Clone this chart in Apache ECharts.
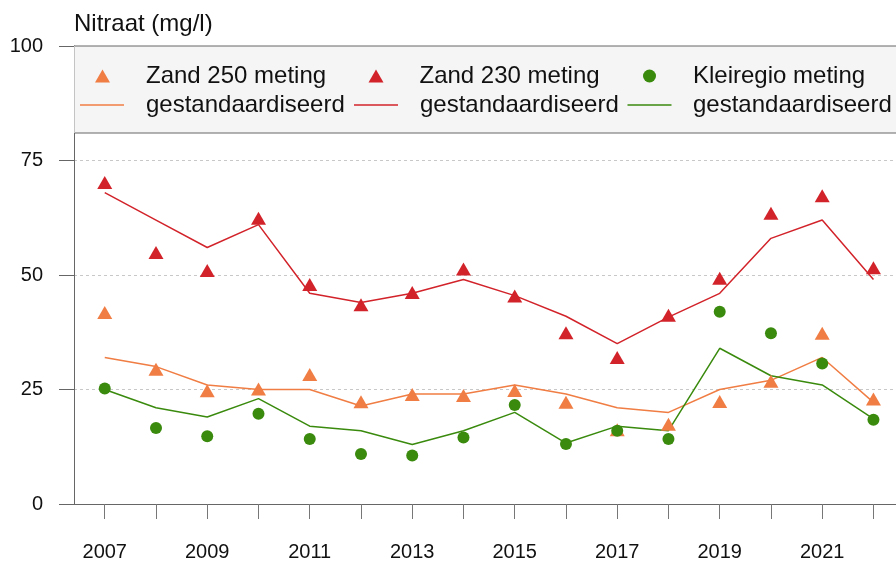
<!DOCTYPE html>
<html>
<head>
<meta charset="utf-8">
<style>
  html, body { margin: 0; padding: 0; background: #fff; }
  #main { width: 896px; height: 562px; }
</style>
<script src="https://cdn.jsdelivr.net/npm/echarts@6/dist/echarts.min.js"></script>
</head>
<body>
<div id="main"></div>
<script>
// jaren en waarden
const years = [2007, 2008, 2009, 2010, 2011, 2012, 2013, 2014, 2015, 2016, 2017, 2018, 2019, 2020, 2021, 2022]
const yearLabels = [2007, 2009, 2011, 2013, 2015, 2017, 2019, 2021]
const yTicks = [0, 25, 50, 75, 100]

const zand250Meting = [41.8, 29.4, 24.7, 25.1, 28.3, 22.3, 23.9, 23.7, 24.8, 22.2, 16.2, 17.4, 22.4, 26.8, 37.3, 22.9]
const zand250Std = [32, 30, 26, 25, 25, 21.4, 24, 24, 26, 24, 21, 20, 25, 27, 32, 22.2]
const zand230Meting = [70.2, 54.9, 51.0, 62.4, 47.9, 43.5, 46.2, 51.3, 45.4, 37.4, 32.0, 41.2, 49.3, 63.5, 67.3, 51.6]
const zand230Std = [68, 62, 56, 61, 46, 44, 46, 49, 45.5, 41, 35, 40.8, 46, 58, 62, 49]
const kleiMeting = [25.2, 16.6, 14.8, 19.7, 14.2, 10.9, 10.6, 14.5, 21.6, 13.1, 16.0, 14.2, 42.0, 37.3, 30.7, 18.4]
const kleiStd = [25, 21, 19, 23, 17, 16, 13, 16, 20, 13.3, 17, 16, 34, 28, 26, 18.6]

const ORANGE = '#f07d43'
const RED = '#d2232a'
const GREEN = '#3a8a0e'
const FONT = '"Liberation Sans", Arial, Helvetica, sans-serif'

const pairs = (vals) => years.map((y, i) => [y, vals[i]])

const myChart = echarts.init(document.getElementById('main'), null, { renderer: 'canvas' })

function markerLegend (name, left, top, icon, w, h, pad) {
  return {
    data: [name],
    left: left,
    top: top,
    padding: 0,
    icon: icon,
    itemWidth: w,
    itemHeight: h,
    selectedMode: false,
    textStyle: { fontSize: 24, color: '#111', fontFamily: FONT, padding: [0, 0, 0, pad] }
  }
}

// lijnstukje in de legenda: een dunne rechthoek, zonder symbool
function lineLegend (name, left, top, pad) {
  return {
    data: [name],
    left: left,
    top: top,
    padding: 0,
    icon: 'rect',
    itemWidth: 44,
    itemHeight: 1.5,
    selectedMode: false,
    formatter: () => 'gestandaardiseerd',
    textStyle: { fontSize: 24, color: '#111', fontFamily: FONT, padding: [0, 0, 0, pad] }
  }
}

myChart.setOption({
  animation: false,
  textStyle: { fontFamily: FONT },
  title: {
    text: 'Nitraat (mg/l)',
    left: 74,
    top: 12,
    padding: 0,
    textStyle: { fontSize: 24, fontWeight: 'normal', color: '#111', fontFamily: FONT }
  },
  grid: { left: 74, right: 0, top: 46, bottom: 57, containLabel: false },
  // grijze legendakader
  graphic: [
    { type: 'rect', z: 3, shape: { x: 74, y: 46, width: 822, height: 87 }, style: { fill: '#f5f5f5' } },
    { type: 'line', z: 3, shape: { x1: 74, y1: 46, x2: 896, y2: 46 }, style: { stroke: '#666', lineWidth: 1 } },
    { type: 'line', z: 3, shape: { x1: 74, y1: 133, x2: 896, y2: 133 }, style: { stroke: '#666', lineWidth: 1 } },
    { type: 'line', z: 3, shape: { x1: 74.5, y1: 46, x2: 74.5, y2: 133 }, style: { stroke: '#c4c4c4', lineWidth: 1 } }
  ],
  legend: [
    markerLegend('Zand 250 meting', 95, 64, 'triangle', 15, 13, 31),
    lineLegend('Zand 250 gestandaardiseerd', 80, 93, 17),
    markerLegend('Zand 230 meting', 368.5, 64, 'triangle', 15, 13, 31),
    lineLegend('Zand 230 gestandaardiseerd', 354, 93, 17),
    markerLegend('Kleiregio meting', 643, 64, 'circle', 13, 13, 32),
    lineLegend('Kleiregio gestandaardiseerd', 627.5, 93, 16.5)
  ],
  xAxis: {
    type: 'value',
    min: 2006.4,
    max: 2022.44,
    axisLine: { show: true, lineStyle: { color: '#666', width: 1 } },
    axisTick: { show: true, length: 15, lineStyle: { color: '#777' }, customValues: years },
    axisLabel: {
      customValues: yearLabels,
      formatter: (v) => String(v),
      fontSize: 20, color: '#111', margin: 38, fontFamily: FONT
    },
    splitLine: { show: false }
  },
  yAxis: {
    type: 'value',
    min: 0,
    max: 100,
    interval: 25,
    axisLine: { show: true, lineStyle: { color: '#666', width: 1 } },
    axisTick: { show: true, length: 15, lineStyle: { color: '#666' }, customValues: yTicks },
    axisLabel: { fontSize: 20, color: '#111', margin: 31, fontFamily: FONT },
    splitLine: { show: true, lineStyle: { color: '#c8c8c8', type: [3, 3], width: 1 } }
  },
  series: [
    {
      name: 'Zand 250 gestandaardiseerd', type: 'line', symbol: 'none', z: 2,
      lineStyle: { color: ORANGE, width: 1.5 }, itemStyle: { color: ORANGE },
      data: pairs(zand250Std)
    },
    {
      name: 'Zand 250 meting', type: 'scatter', symbol: 'triangle', symbolSize: [15, 13], z: 3,
      itemStyle: { color: ORANGE, opacity: 1 },
      data: pairs(zand250Meting)
    },
    {
      name: 'Zand 230 gestandaardiseerd', type: 'line', symbol: 'none', z: 2,
      lineStyle: { color: RED, width: 1.5 }, itemStyle: { color: RED },
      data: pairs(zand230Std)
    },
    {
      name: 'Zand 230 meting', type: 'scatter', symbol: 'triangle', symbolSize: [15, 13], z: 3,
      itemStyle: { color: RED, opacity: 1 },
      data: pairs(zand230Meting)
    },
    {
      name: 'Kleiregio gestandaardiseerd', type: 'line', symbol: 'none', z: 2,
      lineStyle: { color: GREEN, width: 1.5 }, itemStyle: { color: GREEN },
      data: pairs(kleiStd)
    },
    {
      name: 'Kleiregio meting', type: 'scatter', symbol: 'circle', symbolSize: 12, z: 3,
      itemStyle: { color: GREEN, opacity: 1 },
      data: pairs(kleiMeting)
    }
  ]
})
</script>
</body>
</html>
